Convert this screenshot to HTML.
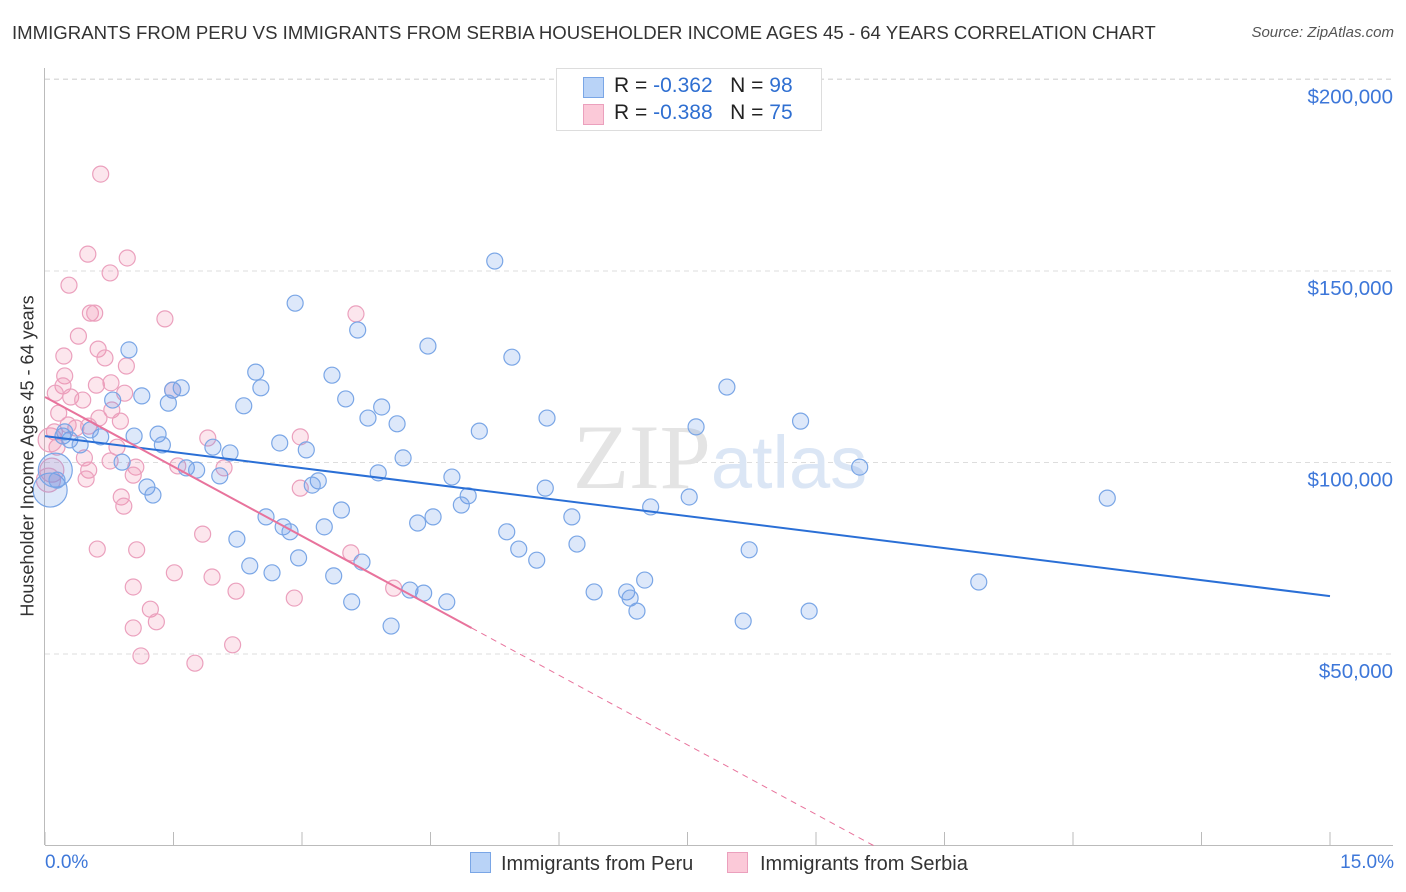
<!DOCTYPE html>
<html><head><meta charset="utf-8"><style>
body{margin:0;background:#fff;font-family:"Liberation Sans",sans-serif;}
#wrap{position:relative;width:1406px;height:892px;overflow:hidden;}
.t{position:absolute;white-space:nowrap;}
</style></head><body>
<div id="wrap">
<div class="t" style="left:12px;top:22px;font-size:18.6px;color:#333;">IMMIGRANTS FROM PERU VS IMMIGRANTS FROM SERBIA HOUSEHOLDER INCOME AGES 45 - 64 YEARS CORRELATION CHART</div>
<div class="t" style="right:12px;top:24px;font-size:15px;color:#555;font-style:italic;">Source: ZipAtlas.com</div>
<svg id="plot" width="1406" height="892" style="position:absolute;left:0;top:0"></svg>
<div style="position:absolute;left:556px;top:68px;width:264px;height:61px;border:1px solid #ddd;background:#fff;font-size:21px;">
 <div style="position:absolute;left:26px;top:8px;width:19px;height:19px;background:#b9d3f7;border:1px solid #7aa6e6;"></div>
 <div class="t" style="left:57px;top:5px;color:#222">R = <span style="color:#2f6fd1">-0.362</span>&nbsp;&nbsp;&nbsp;N = <span style="color:#2f6fd1">98</span></div>
 <div style="position:absolute;left:26px;top:35px;width:19px;height:19px;background:#fbc9d8;border:1px solid #eba0bd;"></div>
 <div class="t" style="left:57px;top:32px;color:#222">R = <span style="color:#2f6fd1">-0.388</span>&nbsp;&nbsp;&nbsp;N = <span style="color:#2f6fd1">75</span></div>
</div>
<div class="t" style="left:28px;top:456px;font-size:18px;color:#333;transform:translate(-50%,-50%) rotate(-90deg);">Householder Income Ages 45 - 64 years</div>
<div class="t" style="left:45px;top:852px;font-size:19px;color:#3d77d9;">0.0%</div>
<div class="t" style="right:12px;top:852px;font-size:19px;color:#3d77d9;">15.0%</div>
<div style="position:absolute;left:470px;top:852px;font-size:20px;color:#333;">
 <span style="display:inline-block;width:19px;height:19px;background:#b9d3f7;border:1px solid #7aa6e6;vertical-align:-3px;margin-right:10px"></span>Immigrants from Peru</div>
<div style="position:absolute;left:727px;top:852px;font-size:20px;color:#333;">
 <span style="display:inline-block;width:19px;height:19px;background:#fbc9d8;border:1px solid #eba0bd;vertical-align:-3px;margin-right:12px"></span>Immigrants from Serbia</div>
</div>
<script>
const yTicks=[50,100,150,200];
const yTickLabels=["$50,000","$100,000","$150,000","$200,000"];
const xTicks=[0,1.5,3,4.5,6,7.5,9,10.5,12,13.5,15];
const peruX=[2.92,5.25,3.65,4.47,5.45,0.98,2.46,3.35,1.59,2.52,1.49,1.13,7.96,0.79,3.51,1.44,2.32,3.93,3.77,5.86,8.82,4.11,7.60,5.07,1.32,1.04,0.21,0.65,2.74,1.37,1.96,3.05,2.16,4.18,0.90,1.65,1.77,9.51,3.89,2.04,4.75,3.19,3.12,5.84,4.94,1.19,1.26,4.86,7.52,12.40,7.07,3.46,6.15,2.58,4.53,4.35,2.78,2.86,3.26,5.39,2.24,6.21,5.53,8.22,5.74,2.96,2.39,2.65,3.70,3.37,7.00,10.90,4.26,4.42,6.41,6.79,6.83,3.58,4.69,6.91,8.92,8.15,4.04,0.06,0.12,0.29,0.41,0.53,0.23,0.14];
const peruY=[141.6,152.6,134.6,130.4,127.5,129.4,123.6,122.8,119.5,119.5,118.9,117.4,119.7,116.3,116.6,115.5,114.8,114.5,111.6,111.6,110.8,110.1,109.3,108.2,107.4,106.9,106.9,106.7,105.1,104.6,104.0,103.3,102.5,101.2,100.1,98.6,98.0,98.8,97.3,96.5,96.2,95.2,94.1,93.3,91.3,93.6,91.5,88.9,91.0,90.7,88.4,87.6,85.8,85.8,85.8,84.2,83.2,81.9,83.2,81.9,80.0,78.7,77.4,77.2,74.5,75.1,73.0,71.2,74.0,70.4,69.3,68.8,66.7,65.9,66.2,66.2,64.6,63.6,63.6,61.2,61.2,58.6,57.3,92.8,98.0,105.9,104.6,108.5,108.0,95.4];
const serbX=[0.65,0.50,0.96,0.76,0.28,0.53,0.58,3.63,1.40,0.39,0.62,0.22,0.70,0.95,0.23,0.60,0.77,0.21,0.12,0.30,1.49,0.93,0.44,0.78,0.16,0.63,0.88,0.51,0.36,0.11,0.27,1.90,2.98,0.84,0.14,0.46,2.09,0.76,1.06,1.55,0.51,1.03,0.48,2.98,0.89,0.92,1.84,0.61,1.07,3.57,1.51,1.95,1.03,4.07,2.23,2.91,1.23,1.30,1.03,2.19,1.12,1.75,0.06,0.08,0.04];
const serbY=[175.3,154.4,153.4,149.5,146.3,139.0,139.0,138.8,137.5,133.0,129.6,127.8,127.3,125.2,122.6,120.2,120.8,120.0,118.1,117.1,118.9,118.1,116.3,113.7,112.9,111.6,110.8,109.5,109.0,108.0,109.8,106.4,106.7,104.0,104.0,101.2,98.6,100.4,98.8,99.1,98.0,96.7,95.7,93.3,91.0,88.6,81.3,77.4,77.2,76.4,71.2,70.1,67.5,67.2,66.4,64.6,61.7,58.4,56.8,52.4,49.5,47.6,105.9,98.0,95.4];
const peruTrend=[106.9,65.1];
const serbTrend=[117.1,56.8,4.98];

const X0=45,X1=1330,Y0=845.5,YPER=3.83;
const sx=v=>X0+(X1-X0)*v/15;
const sy=v=>Y0-v*YPER;
const svg=document.getElementById('plot');
const NS='http://www.w3.org/2000/svg';
function mk(tag,attrs){const e=document.createElementNS(NS,tag);for(const k in attrs)e.setAttribute(k,attrs[k]);svg.appendChild(e);return e;}
yTicks.forEach((t,i)=>{
 const g=mk('line',{x1:45,x2:1393,y1:sy(t),y2:sy(t),stroke:'#ddd','stroke-dasharray':'5,4'});
 
 
 const tx=mk('text',{x:1393,y:sy(t)+24,'text-anchor':'end','font-size':20.5,fill:'#3d77d9','font-family':'Liberation Sans, sans-serif'});
 tx.textContent=yTickLabels[i];
 
 
});
const topG=mk('line',{x1:45,x2:1393,y1:79,y2:79,stroke:'#ddd','stroke-dasharray':'5,4'});


const ya=mk('line',{x1:44.5,x2:44.5,y1:68,y2:845,stroke:'#bbb'});


const xa=mk('line',{x1:45,x2:1393,y1:845.5,y2:845.5,stroke:'#bbb'});


xTicks.forEach(t=>{
 const l=mk('line',{x1:sx(t),x2:sx(t),y1:832,y2:845,stroke:'#bbb'});
 
 
});
const wm=mk('text',{x:720,y:488,'text-anchor':'middle','font-size':92,fill:'#e4e4e4','font-family':'Liberation Serif, serif'});
wm.innerHTML='ZIP<tspan fill="#dbe6f5" font-family="Liberation Sans, sans-serif" font-size="74">atlas</tspan>';


serbX.forEach((x,i)=>{
 const c=mk('circle',{cx:sx(x),cy:sy(serbY[i]),r:(x<0.1)?12:8,fill:'rgba(240,140,175,0.22)',stroke:'#eba0bd','stroke-width':1.2});
 
 
});
peruX.forEach((x,i)=>{
 const c=mk('circle',{cx:sx(x),cy:sy(peruY[i]),r:(x<0.13)?17:8,fill:'rgba(100,150,230,0.22)',stroke:'#7aa6e6','stroke-width':1.2});
 
 
});
const bl=mk('line',{x1:sx(0),y1:sy(peruTrend[0]),x2:sx(15),y2:sy(peruTrend[1]),stroke:'#2a6fd6','stroke-width':2});


const slope=(serbTrend[0]-serbTrend[1])/serbTrend[2];
const zx=serbTrend[0]/slope;
const pl=mk('line',{x1:sx(0),y1:sy(serbTrend[0]),x2:sx(serbTrend[2]),y2:sy(serbTrend[1]),stroke:'#e8739c','stroke-width':2});


const pd=mk('line',{x1:sx(serbTrend[2]),y1:sy(serbTrend[1]),x2:sx(zx),y2:sy(0),stroke:'#e8739c','stroke-width':1,'stroke-dasharray':'6,5'});


</script>
</body></html>
